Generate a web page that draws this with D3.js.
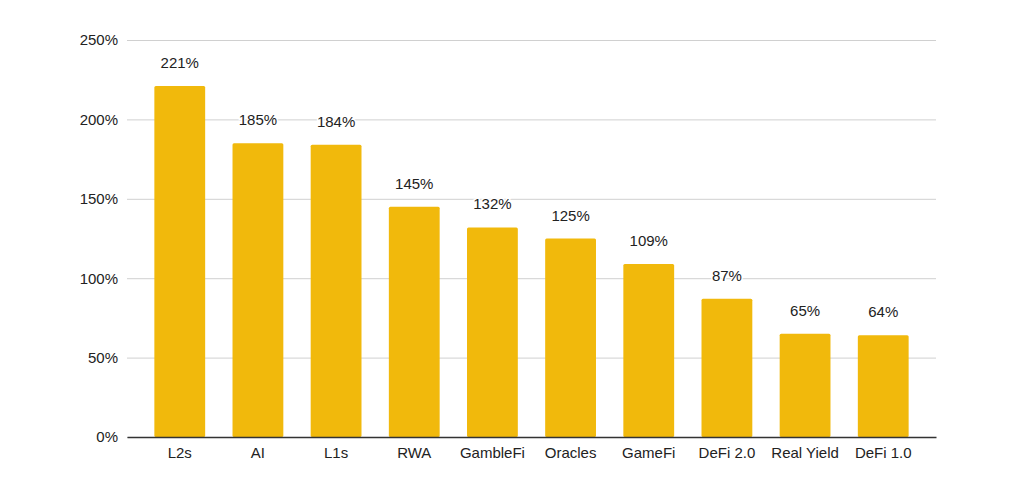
<!DOCTYPE html>
<html>
<head>
<meta charset="utf-8">
<script src="https://cdn.jsdelivr.net/npm/d3@7"></script>
<style>
  body { margin: 0; background: #fff; }
  text { font-family: "Liberation Sans", Arial, sans-serif; fill: #222; }
</style>
</head>
<body>
<script>
const categories = ["L2s", "AI", "L1s", "RWA", "GambleFi", "Oracles", "GameFi", "DeFi 2.0", "Real Yield", "DeFi 1.0"];
const values = [221, 185, 184, 145, 132, 125, 109, 87, 65, 64];
const yTicks = [0, 50, 100, 150, 200, 250];

const W = 1031, H = 499;
let margin = {top: 40, right: 95, bottom: 62, left: 127}
  , width = W - margin.left - margin.right
  , height = H - margin.top - margin.bottom;

let xScale = d3.scaleBand().domain(categories).range([0, width]).padding(0.35);
let yScale = d3.scaleLinear().domain([0, 250]).range([height, 0]);

const svg = d3.select("body").append("svg")
    .attr("width", W)
    .attr("height", H)
  .append("g")
    .attr("transform", "translate(" + margin.left + "," + margin.top + ")");

// gridlines + y labels
const yAxis = svg.append("g")
    .call(d3.axisLeft(yScale).tickValues(yTicks).tickFormat(d => d + "%").tickSize(-width).tickPadding(9));
yAxis.select(".domain").remove();
yAxis.selectAll(".tick line").attr("stroke", "#d0d0d0").attr("stroke-width", 1);
yAxis.selectAll(".tick text").attr("font-size", 15).attr("fill", "#222");

// bars
svg.selectAll(".bar")
    .data(values)
  .enter().append("rect")
    .attr("class", "bar")
    .attr("x", (d, i) => xScale(categories[i]))
    .attr("y", d => yScale(d))
    .attr("width", xScale.bandwidth())
    .attr("height", d => height - yScale(d))
    .attr("rx", 1.5)
    .attr("fill", "#F1B90C");

// value labels
svg.selectAll(".val")
    .data(values)
  .enter().append("text")
    .attr("class", "val")
    .attr("x", (d, i) => xScale(categories[i]) + xScale.bandwidth() / 2)
    .attr("y", d => yScale(d) - 18)
    .attr("text-anchor", "middle")
    .attr("font-size", 15)
    .attr("stroke", "#fff")
    .attr("stroke-width", 3)
    .attr("paint-order", "stroke")
    .text(d => d + "%");

// x axis
const xAxis = svg.append("g")
    .attr("transform", "translate(0," + height + ")")
    .call(d3.axisBottom(xScale).tickSize(0).tickPadding(10));
xAxis.select(".domain").attr("stroke", "#333").attr("stroke-width", 1.3);
xAxis.selectAll(".tick text").attr("font-size", 15).attr("fill", "#222");
</script>
</body>
</html>
